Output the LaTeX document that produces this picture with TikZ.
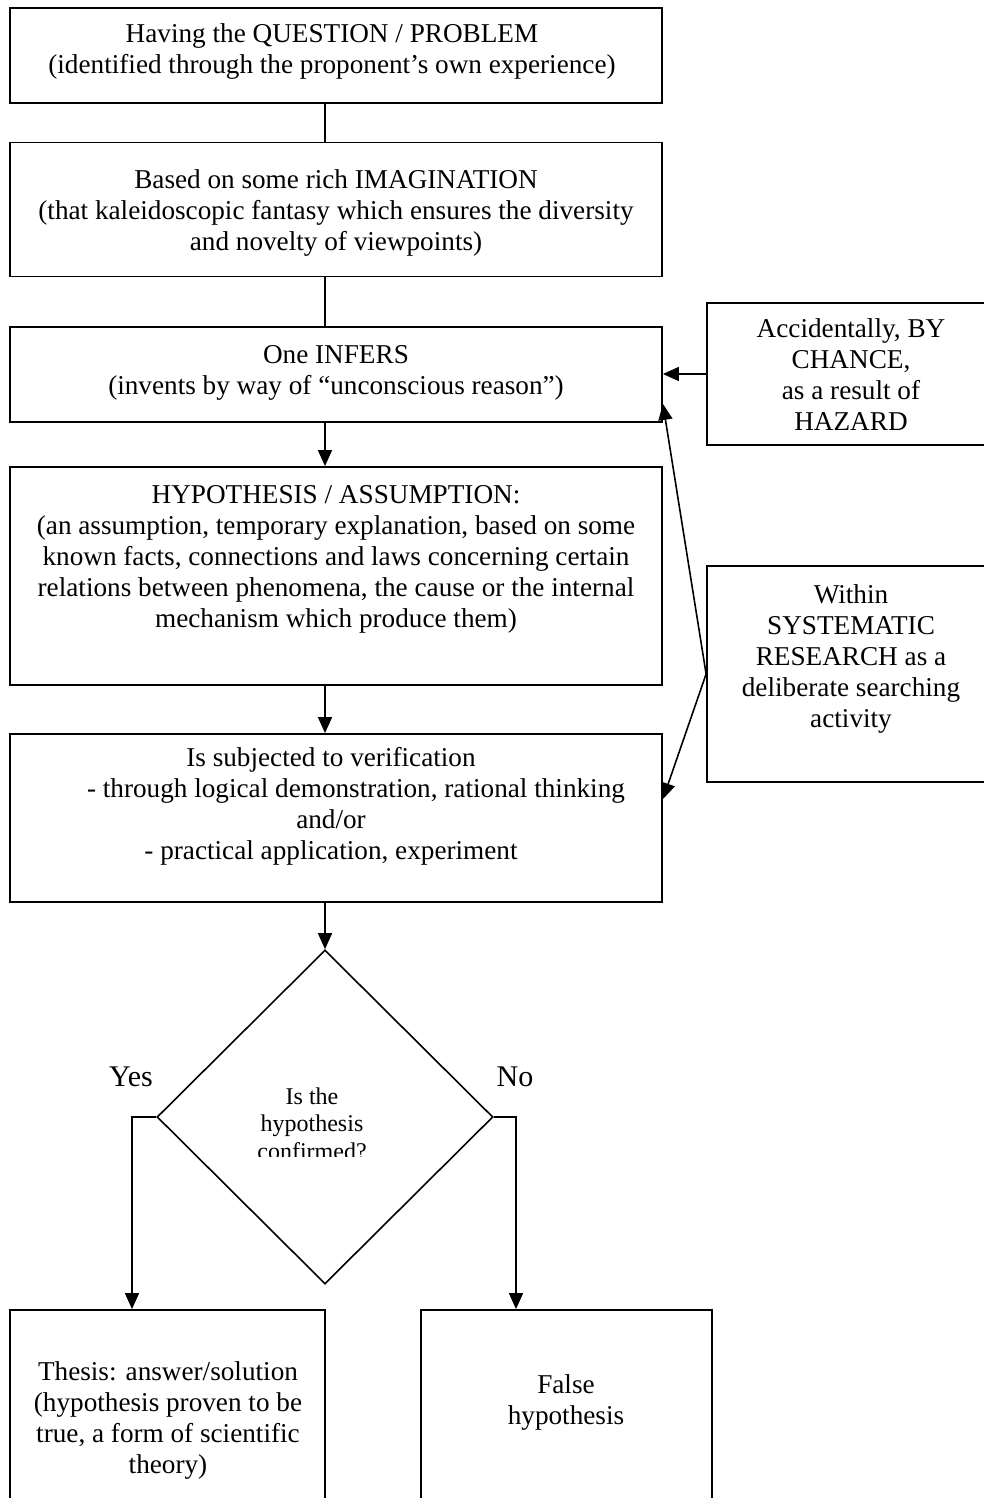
\documentclass[tikz,border=0pt]{standalone}
\usepackage{fontspec}
\setmainfont{Liberation Serif}
\usetikzlibrary{shapes.geometric,arrows.meta,calc}
\tikzset{
  boxnode/.style={draw, line width=0.9pt, inner sep=0pt, rectangle},
  txt/.style={inner sep=0pt, align=center, font=\fontsize{13.6}{15.5}\selectfont},
  dtxt/.style={inner sep=0pt, align=center, font=\fontsize{12}{13.8}\selectfont},
  yn/.style={inner sep=0pt, font=\fontsize{15}{17}\selectfont},
  conn/.style={line width=0.8pt},
  arr/.style={line width=0.8pt, -{Triangle[length=8pt,width=7pt]}}
}
\begin{document}
\begin{tikzpicture}[x=0.5pt,y=-0.5pt]
\useasboundingbox (0,0) rectangle (984,1498);
\clip (0,0) rectangle (984,1498);
% boxes
\node[boxnode, minimum width=326pt, minimum height=47.5pt] (b1) at (336,55.5) {};
\node[boxnode, minimum width=326pt, minimum height=67pt] (b2) at (336,209.5) {};
\node[boxnode, minimum width=326pt, minimum height=47.5pt] (b3) at (336,374.5) {};
\node[boxnode, minimum width=326pt, minimum height=109pt] (b4) at (336,576) {};
\node[boxnode, minimum width=326pt, minimum height=84pt] (b5) at (336,818) {};
\node[boxnode, minimum width=157.5pt, minimum height=105pt] (b6) at (167.5,1415) {};
\node[boxnode, minimum width=145.5pt, minimum height=105pt] (b7) at (566.5,1415) {};
\node[boxnode, minimum width=144.5pt, minimum height=71pt] (acc) at (851.5,374) {};
\node[boxnode, minimum width=144.5pt, minimum height=108pt] (wit) at (851.5,674) {};
\node[diamond, draw, line width=0.8pt, inner sep=0pt, minimum width=168pt, minimum height=167pt] (d) at (325,1117) {};
% texts
\node[txt] (t1) at (332,51.5) {Having the QUESTION / PROBLEM\\(identified through the proponent’s own experience)};
\node[txt] (t2) at (336,213) {Based on some rich IMAGINATION\\(that kaleidoscopic fantasy which ensures the diversity\\and novelty of viewpoints)};
\node[txt] (t3) at (336,372.5) {One INFERS\\(invents by way of “unconscious reason”)};
\node[txt] (t4) at (336,559) {HYPOTHESIS / ASSUMPTION:\\(an assumption, temporary explanation, based on some\\known facts, connections and laws concerning certain\\relations between phenomena, the cause or the internal\\mechanism which produce them)};
\node[txt] (t5) at (331,806) {Is subjected to verification\\\hspace*{25pt}- through logical demonstration, rational thinking\\and/or\\- practical application, experiment};
\node[txt] (t6) at (168,1420) {Thesis: answer/solution\\(hypothesis proven to be\\true, a form of scientific\\theory)};
\node[txt] (t7) at (566,1402) {False\\hypothesis};
\node[txt] (tacc) at (851,374.5) {Accidentally, BY\\CHANCE,\\as a result of\\HAZARD};
\node[txt] (twit) at (851,659) {Within\\SYSTEMATIC\\RESEARCH as a\\deliberate searching\\activity};
\begin{scope}
\clip (0,0) rectangle (984,1156);
\node[dtxt] (td) at (312,1123.5) {Is the\\hypothesis\\confirmed?};
\end{scope}
\node[yn] (yes) at (131,1077) {Yes};
\node[yn] (no) at (515,1077) {No};
% columns
\coordinate (ycol) at (132,0);
\coordinate (ncol) at (516,0);
% connectors
\draw[conn] (b1.south -| d.north) -- (b2.north -| d.north);
\draw[conn] (b2.south -| d.north) -- (b3.north -| d.north);
\draw[arr] (b3.south -| d.north) -- (b4.north -| d.north);
\draw[arr] (b4.south -| d.north) -- (b5.north -| d.north);
\draw[arr] (b5.south -| d.north) -- (d.north);
\draw[arr] (d.west) -| (ycol |- b6.north);
\draw[arr] (d.east) -| (ncol |- b7.north);
\draw[arr] (acc.west) -- (acc.west -| b3.east);
\draw[arr] (wit.west) -- ($(b3.south east)+(0,-19)$);
\draw[arr] (wit.west) -- ($(b5.north east)+(0,66)$);
\end{tikzpicture}
\end{document}
